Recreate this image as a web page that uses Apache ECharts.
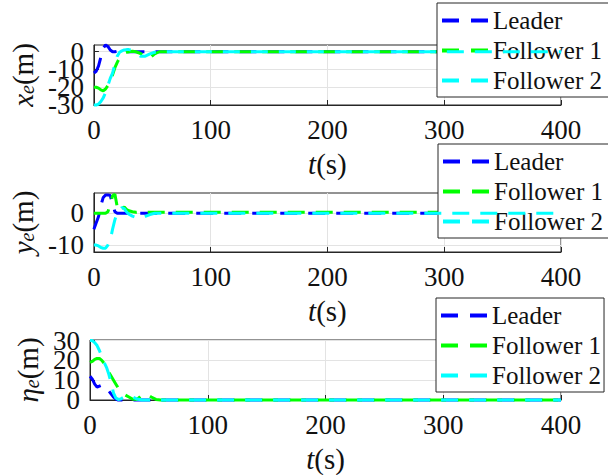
<!DOCTYPE html>
<html>
<head>
<meta charset="utf-8">
<script src="https://cdn.jsdelivr.net/npm/echarts@6/dist/echarts.min.js"></script>
<style>
  html, body { margin: 0; padding: 0; background: #ffffff; }
  #plot { width: 608px; height: 475px; }
</style>
</head>
<body>
<div id="plot"></div>
<script>
// Sample times (s) shared by all error traces
const times = [0, 2, 4, 6, 8, 10, 12, 14, 16, 18, 20, 22, 24, 26, 28, 30, 33, 36, 40, 44, 48, 52, 56, 60, 100, 200, 300, 400];

// Longitudinal error x_e (m)
const xeLeader = [-12, -11, -8, -3, 2, 3.8, 3, 1, 0, 0, 0.3, 0.5, 0.3, 0, 0, 0, 0, 0, 0, 0, 0, 0, 0, 0, 0, 0, 0, 0];
const xeFollower1 = [-20, -20, -20.5, -21.5, -22, -21, -19, -16, -13, -9, -6, -3.5, -1.8, -0.8, -0.3, 0, 0.3, 0, -1, -3, -3.5, -1.2, 0, 0, 0, 0, 0, 0];
const xeFollower2 = [-30, -30, -29.5, -28, -26, -23, -19, -15, -12, -7, -2.5, -0.3, 0.5, 1, 1.2, 1.2, 0.8, -0.5, -2.6, -2.5, -1.2, -0.3, 0, 0, 0, 0, 0, 0];

// Lateral error y_e (m)
const yeLeader = [-5, -3, -1, 2.5, 5, 5.8, 5.8, 5.6, 3, 0.5, 0, 0, 0, 0, 0, 0, 0, 0, 0, 0, 0, 0, 0, 0, 0, 0, 0, 0];
const yeFollower1 = [0, 0, 0, 0, 0, 0, 0.5, 3, 5.5, 6, 2, 0.5, 1.5, 2, 1.2, 0.8, 0.5, 0.3, 0.5, 0.3, 0.3, 0.3, 0.3, 0.3, 0.3, 0.3, 0.3, 0.3];
const yeFollower2 = [-10, -10, -10.3, -10.8, -11, -11, -10, -8.5, -5, -2, 0, 1, 1.8, 1.5, 0.4, -0.3, -0.9, -1.3, -1.6, -1, -0.4, 0, 0, 0, 0, 0, 0, 0];

// Distance error eta_e (m)
const etaLeader = [12, 10.5, 8, 6.5, 7, 7.5, 7, 6, 4.5, 3, 1.5, 0.5, 0, 0, 0, 0, 0, 0, 0, 0, 0, 0, 0, 0, 0, 0, 0, 0];
const etaFollower1 = [19, 19.5, 20.5, 21, 21, 20, 18.5, 16, 14, 12, 10, 8, 6, 4.5, 3.5, 2.5, 1.5, 0.5, 0.3, 2.5, 3, 1.5, 0.3, 0, 0, 0, 0, 0];
const etaFollower2 = [30, 30, 29, 27.5, 25, 22, 19, 16.5, 13, 8.5, 3.5, 1, 0.3, 0.5, 1.2, 1.7, 2, 1.5, 0.5, 0, 0, 0, 0, 0, 0, 0, 0, 0];

const seriesNames = ['Leader', 'Follower 1', 'Follower 2'];
const seriesColors = ['#0000ff', '#00ff00', '#00ffff'];

const yTicksX = [-30, -20, -10, 0];
const yTicksY = [-10, 0];
const yTicksEta = [0, 10, 20, 30];

const inkColor = '#262626';
const gridColor = '#e3e3e3';
const dashIcon = 'path://M0,0H17V4H0Z M29,0H46V4H29Z';

const panels = [
  { data: [xeLeader, xeFollower1, xeFollower2], min: -30, max: 3.8, ticks: yTicksX,
    name: '{v|x}{s|e}{n|(m)}', top: 45, height: 60, nameGap: 56, legendTop: 3, legendLeft: 437, legendPadRight: 12 },
  { data: [yeLeader, yeFollower1, yeFollower2], min: -12.2, max: 6.4, ticks: yTicksY,
    name: '{v|y}{s|e}{n|(m)}', top: 193, height: 59, nameGap: 54, legendTop: 144, legendLeft: 438, legendPadRight: 12 },
  { data: [etaLeader, etaFollower1, etaFollower2], min: 0, max: 30.3, ticks: yTicksEta,
    name: '{v|η}{s|e}{n|(m)}', top: 340, height: 60, nameGap: 46, legendTop: 298, legendLeft: 436, legendPadRight: 3 }
];

function nameRich() {
  return {
    v: { fontFamily: 'Liberation Serif', fontSize: 29, fontStyle: 'italic' },
    s: { fontFamily: 'Liberation Serif', fontSize: 20, fontStyle: 'italic', verticalAlign: 'bottom', lineHeight: 18 },
    n: { fontFamily: 'Liberation Serif', fontSize: 29 }
  };
}

function tickLabelStyle(values) {
  return { fontFamily: 'Liberation Serif', fontSize: 27, color: '#111111', margin: 10,
    customValues: values, showMinLabel: true, showMaxLabel: true, hideOverlap: false };
}

const grids = [], xAxes = [], yAxes = [], legends = [], series = [];

panels.forEach((p, gi) => {
  grids.push({ left: 90, top: p.top, width: 471, height: p.height,
    show: true, borderColor: inkColor, borderWidth: 1, backgroundColor: '#ffffff' });

  xAxes.push({
    type: 'value', gridIndex: gi, min: 0, max: 400, interval: 100,
    axisLine: { show: true, onZero: false, lineStyle: { color: inkColor, width: 1 } },
    axisTick: { show: true, inside: true, length: 5, lineStyle: { color: inkColor } },
    axisLabel: { fontFamily: 'Liberation Serif', fontSize: 27, color: '#111111', margin: 11,
      showMinLabel: true, showMaxLabel: true },
    splitLine: { show: true, lineStyle: { color: gridColor, width: 1 } },
    name: '{v|t}{n|(s)}', nameLocation: 'middle', nameGap: 44,
    nameTextStyle: { fontFamily: 'Liberation Serif', fontSize: 29, color: '#111111', rich: nameRich() }
  });

  // Tick labels sit close together, so they are split over two stacked axes
  const evenTicks = p.ticks.filter((v, k) => k % 2 === 0);
  const oddTicks = p.ticks.filter((v, k) => k % 2 === 1);

  yAxes.push({
    type: 'value', gridIndex: gi, min: p.min, max: p.max, position: 'left',
    axisLine: { show: true, onZero: false, lineStyle: { color: inkColor, width: 1 } },
    axisTick: { show: true, inside: true, length: 5, lineStyle: { color: inkColor }, customValues: p.ticks },
    axisLabel: tickLabelStyle(evenTicks),
    splitLine: { show: true, lineStyle: { color: gridColor, width: 1 } },
    name: p.name, nameLocation: 'middle', nameRotate: 90, nameGap: p.nameGap,
    nameTextStyle: { fontFamily: 'Liberation Serif', fontSize: 29, color: '#111111', rich: nameRich() }
  });
  yAxes.push({
    type: 'value', gridIndex: gi, min: p.min, max: p.max, position: 'left', offset: 0,
    axisLine: { show: false, onZero: false },
    axisTick: { show: false },
    axisLabel: tickLabelStyle(oddTicks),
    splitLine: { show: false }
  });

  legends.push({
    data: seriesNames, orient: 'vertical', left: p.legendLeft, top: p.legendTop,
    padding: [5, p.legendPadRight, 4, 5], itemGap: 5,
    backgroundColor: '#ffffff', borderColor: inkColor, borderWidth: 1, borderRadius: 0,
    icon: dashIcon, itemWidth: 46, itemHeight: 4,
    textStyle: { fontFamily: 'Liberation Serif', fontSize: 25, color: '#111111' },
    selectedMode: false
  });

  p.data.forEach((vals, si) => {
    series.push({
      type: 'line', name: seriesNames[si], xAxisIndex: gi, yAxisIndex: 2 * gi,
      data: times.map((t, k) => [t, vals[k]]),
      showSymbol: false, symbol: 'none', clip: false, smooth: false,
      color: seriesColors[si],
      lineStyle: { color: seriesColors[si], width: 3, type: [17, 11] },
      z: 2 + si
    });
  });
});

const myChart = echarts.init(document.getElementById('plot'), null, { renderer: 'svg' });
myChart.setOption({
  animation: false,
  backgroundColor: '#ffffff',
  textStyle: { fontFamily: 'Liberation Serif' },
  grid: grids,
  xAxis: xAxes,
  yAxis: yAxes,
  legend: legends,
  series: series
});
</script>
</body>
</html>
